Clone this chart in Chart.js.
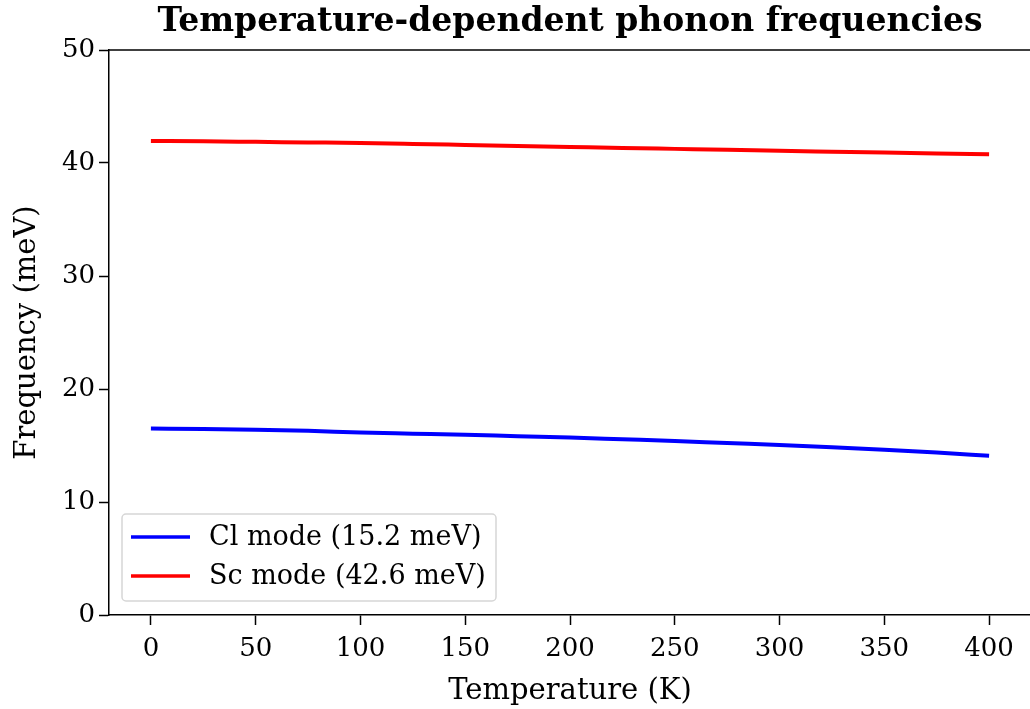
<!DOCTYPE html>
<html>
<head>
<meta charset="utf-8">
<script src="https://cdn.jsdelivr.net/npm/chart.js@4.4.1/dist/chart.umd.min.js"></script>
<style>
  html, body { margin: 0; padding: 0; background: #fff; }
  #wrap { width: 1030px; height: 709px; overflow: hidden; position: relative; }
  #box { width: 1040px; height: 709px; }
</style>
</head>
<body>
<div id="wrap"><div id="box"><canvas id="phonon-chart"></canvas></div></div>
<script>
// temperatures (K)
const temps = [0, 25, 50, 75, 100, 125, 150, 175, 200, 225, 250, 275, 300, 325, 350, 375, 400];

// Cl mode frequencies (meV)
const clMode = [16.50, 16.46, 16.40, 16.30, 16.15, 16.05, 15.95, 15.82, 15.70, 15.55, 15.40, 15.22, 15.05, 14.85, 14.62, 14.37, 14.10];

// Sc mode frequencies (meV)
const scMode = [41.95, 41.92, 41.87, 41.82, 41.77, 41.69, 41.60, 41.51, 41.42, 41.33, 41.25, 41.17, 41.08, 41.00, 40.92, 40.85, 40.77];

const xTicks = [0, 50, 100, 150, 200, 250, 300, 350, 400];
const yTicks = [0, 10, 20, 30, 40, 50];

const serif = "'DejaVu Serif', serif";

// legend box in the lower left, like matplotlib's
const boxLegend = {
    id: 'boxLegend',
    afterDatasetsDraw(chart) {
        const ctx = chart.ctx;
        const area = chart.chartArea;
        const x0 = area.left + 13, y0 = area.bottom - 101;
        const w = 374, h = 87;
        ctx.save();
        ctx.fillStyle = 'rgba(255,255,255,0.8)';
        ctx.strokeStyle = '#d6d6d6';
        ctx.lineWidth = 1.5;
        ctx.beginPath();
        ctx.roundRect(x0, y0, w, h, 4);
        ctx.fill();
        ctx.stroke();
        ctx.font = '27px ' + serif;
        ctx.textBaseline = 'middle';
        chart.data.datasets.forEach((ds, i) => {
            const yy = y0 + 23 + i * 39;
            ctx.strokeStyle = ds.borderColor;
            ctx.lineWidth = 3.5;
            ctx.beginPath();
            ctx.moveTo(x0 + 9, yy);
            ctx.lineTo(x0 + 68, yy);
            ctx.stroke();
            ctx.fillStyle = '#000';
            ctx.fillText(ds.label, x0 + 87, yy + 1);
        });
        ctx.restore();
    }
};

// top spine
const topSpine = {
    id: 'topSpine',
    afterDraw(chart) {
        const ctx = chart.ctx;
        const area = chart.chartArea;
        ctx.save();
        ctx.strokeStyle = '#000';
        ctx.lineWidth = 1.5;
        ctx.beginPath();
        ctx.moveTo(area.left, area.top);
        ctx.lineTo(area.right, area.top);
        ctx.stroke();
        ctx.restore();
    }
};

const ctx = document.getElementById('phonon-chart');
new Chart(ctx, {
    type: 'line',
    data: {
        datasets: [{
            label: 'Cl mode (15.2 meV)',
            data: temps.map((t, i) => ({ x: t, y: clMode[i] })),
            borderColor: 'rgb(0, 0, 255)',
            borderWidth: 4,
            pointRadius: 0,
            cubicInterpolationMode: 'monotone',
            fill: false
        }, {
            label: 'Sc mode (42.6 meV)',
            data: temps.map((t, i) => ({ x: t, y: scMode[i] })),
            borderColor: 'rgb(255, 0, 0)',
            borderWidth: 4,
            pointRadius: 0,
            cubicInterpolationMode: 'monotone',
            fill: false
        }]
    },
    options: {
        responsive: true,
        maintainAspectRatio: false,
        animation: false,
        layout: { padding: { left: 0, right: 9, top: 0, bottom: 0 } },
        plugins: {
            legend: { display: false },
            tooltip: { enabled: false },
            title: {
                display: true,
                fullSize: false,
                text: 'Temperature-dependent phonon frequencies',
                color: '#000',
                font: { family: serif, size: 33, weight: 'bold' },
                padding: { top: 3, bottom: 7.4 },
                lineHeight: 1.2
            }
        },
        scales: {
            x: {
                type: 'linear',
                min: -20,
                max: 420,
                afterBuildTicks: axis => { axis.ticks = xTicks.map(v => ({ value: v })); },
                afterFit: axis => { axis.height = 94; },
                grid: { drawOnChartArea: false, drawTicks: true, tickLength: 10, tickWidth: 1.5, color: '#000' },
                border: { display: true, color: '#000', width: 1.5 },
                ticks: { color: '#000', font: { family: serif, size: 26 }, padding: 9, maxRotation: 0 },
                title: {
                    display: true,
                    text: 'Temperature (K)',
                    color: '#000',
                    font: { family: serif, size: 29 },
                    padding: { top: 7, bottom: 0 }
                }
            },
            y: {
                min: 0,
                max: 50,
                afterBuildTicks: axis => { axis.ticks = yTicks.map(v => ({ value: v })); },
                afterFit: axis => { axis.width = 109; },
                grid: { drawOnChartArea: false, drawTicks: true, tickLength: 10, tickWidth: 1.5, color: '#000' },
                border: { display: true, color: '#000', width: 1.5 },
                ticks: { color: '#000', font: { family: serif, size: 26 }, padding: 4 },
                title: {
                    display: true,
                    text: 'Frequency (meV)',
                    color: '#000',
                    font: { family: serif, size: 29 },
                    padding: { top: 10, bottom: 0 }
                }
            }
        }
    },
    plugins: [boxLegend, topSpine]
});
</script>
</body>
</html>
